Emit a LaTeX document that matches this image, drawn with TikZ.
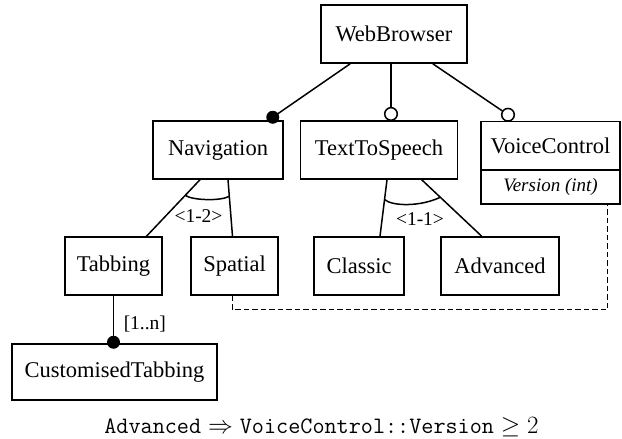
\documentclass[tikz,border=0pt]{standalone}
\usepackage[no-math]{fontspec}
\setmainfont{Liberation Serif}
\usetikzlibrary{calc}
\begin{document}
\begin{tikzpicture}[x=1pt,y=-1pt,line width=1.5pt,
  feat/.style={draw,rectangle,inner sep=0pt,minimum height=58pt,font=\fontsize{22.5}{26}\selectfont},
  lbl/.style={inner sep=0pt,font=\fontsize{19.5}{22}\selectfont},
  dashline/.style={line width=1.3pt,dash pattern=on 5.5pt off 3pt}]
\useasboundingbox (0,0) rectangle (622,439);
% features
\node[feat,minimum width=146pt] (web) at (394,34) {WebBrowser};
\node[feat,minimum width=130pt] (nav) at (218,150) {Navigation};
\node[feat,minimum width=157pt] (tts) at (379,150) {TextToSpeech};
\node[feat,minimum width=139pt,minimum height=48.5pt] (vc) at (550.5,145.75) {VoiceControl};
\node[feat,minimum width=139pt,minimum height=34pt,font=\fontsize{19}{22}\selectfont\itshape] (vca) at (550.5,187) {Version (int)};
\node[feat,minimum width=97pt] (tab) at (113.5,266) {Tabbing};
\node[feat,minimum width=87pt] (spat) at (234.7,266) {Spatial};
\node[feat,minimum width=90pt] (cls) at (359,266) {Classic};
\node[feat,minimum width=118pt] (adv) at (500,266) {Advanced};
\node[feat,minimum width=205pt,minimum height=56pt] (cust) at (114.5,372) {CustomisedTabbing};
% WebBrowser children
\coordinate (wl) at ($(web.south west)+(30,0)$);
\coordinate (navd) at ($(nav.north east)+(-11,-3)$);
\draw (wl) -- (navd);
\fill (navd) circle (6.5);
\coordinate (ttsc) at ($(tts.north)+(12,-6.3)$);
\coordinate (wm) at (web.south -| ttsc);
\draw (wm) -- (ttsc);
\draw[fill=white] (ttsc) circle (6.3);
\coordinate (wr) at ($(web.south east)+(-35,0)$);
\coordinate (vcc) at ($(vc.north)+(-42.5,-6)$);
\draw (wr) -- (vcc);
\draw[fill=white] (vcc) circle (6.3);
% Navigation group
\coordinate (n1) at ($(nav.south)+(-18,0)$);
\coordinate (n2) at ($(nav.south)+(10,0)$);
\coordinate (t1) at ($(tab.north)+(33,0)$);
\coordinate (t2) at ($(spat.north)+(-2.2,0)$);
\draw (n1) -- (t1);
\draw (n2) -- (t2);
\coordinate (na) at ($(n1)!0.276!(t1)$);
\coordinate (nb) at ($(n2)!0.293!(t2)$);
\draw (na) .. controls ($(na)+(7,5)$) and ($(nb)+(-9,5)$) .. (nb);
\node[lbl] (g12) at (198.5,216.5) {<1-2>};
% TextToSpeech group
\coordinate (s1) at ($(tts.south)+(8,0)$);
\coordinate (s2) at ($(tts.south)+(42.7,0)$);
\coordinate (c1) at ($(cls.north)+(21,0)$);
\coordinate (c2) at ($(adv.north)+(-18.3,0)$);
\draw (s1) -- (c1);
\draw (s2) -- (c2);
\coordinate (sa) at ($(s1)!0.35!(c1)$);
\coordinate (sb) at ($(s2)!0.31!(c2)$);
\draw (sa) .. controls ($(sa)+(7.5,6.7)$) and ($(sb)+(-20.3,9.7)$) .. (sb);
\node[lbl] (g11) at (420,219.5) {<1-1>};
% Tabbing to CustomisedTabbing
\coordinate (ctd) at ($(tab.south |- cust.north)+(0,-1)$);
\draw (tab.south) -- (ctd);
\fill (ctd) circle (6.5);
\node[lbl,anchor=west] (mult) at (123,324.5) {[1..n]};
% cross-tree constraint
\coordinate (sp) at ($(spat.south)+(-2.4,0)$);
\coordinate (vp) at ($(vca.south east)+(-13,0)$);
\draw[dashline] (sp) -- ($(sp)+(0,14)$) -| (vp);
\node[inner sep=0pt,anchor=base,font=\fontsize{23.5}{28}\selectfont] (cons) at (321.5,433)
  {$\texttt{Advanced}\Rightarrow\texttt{VoiceControl::Version}\geq 2$};
\end{tikzpicture}
\end{document}
